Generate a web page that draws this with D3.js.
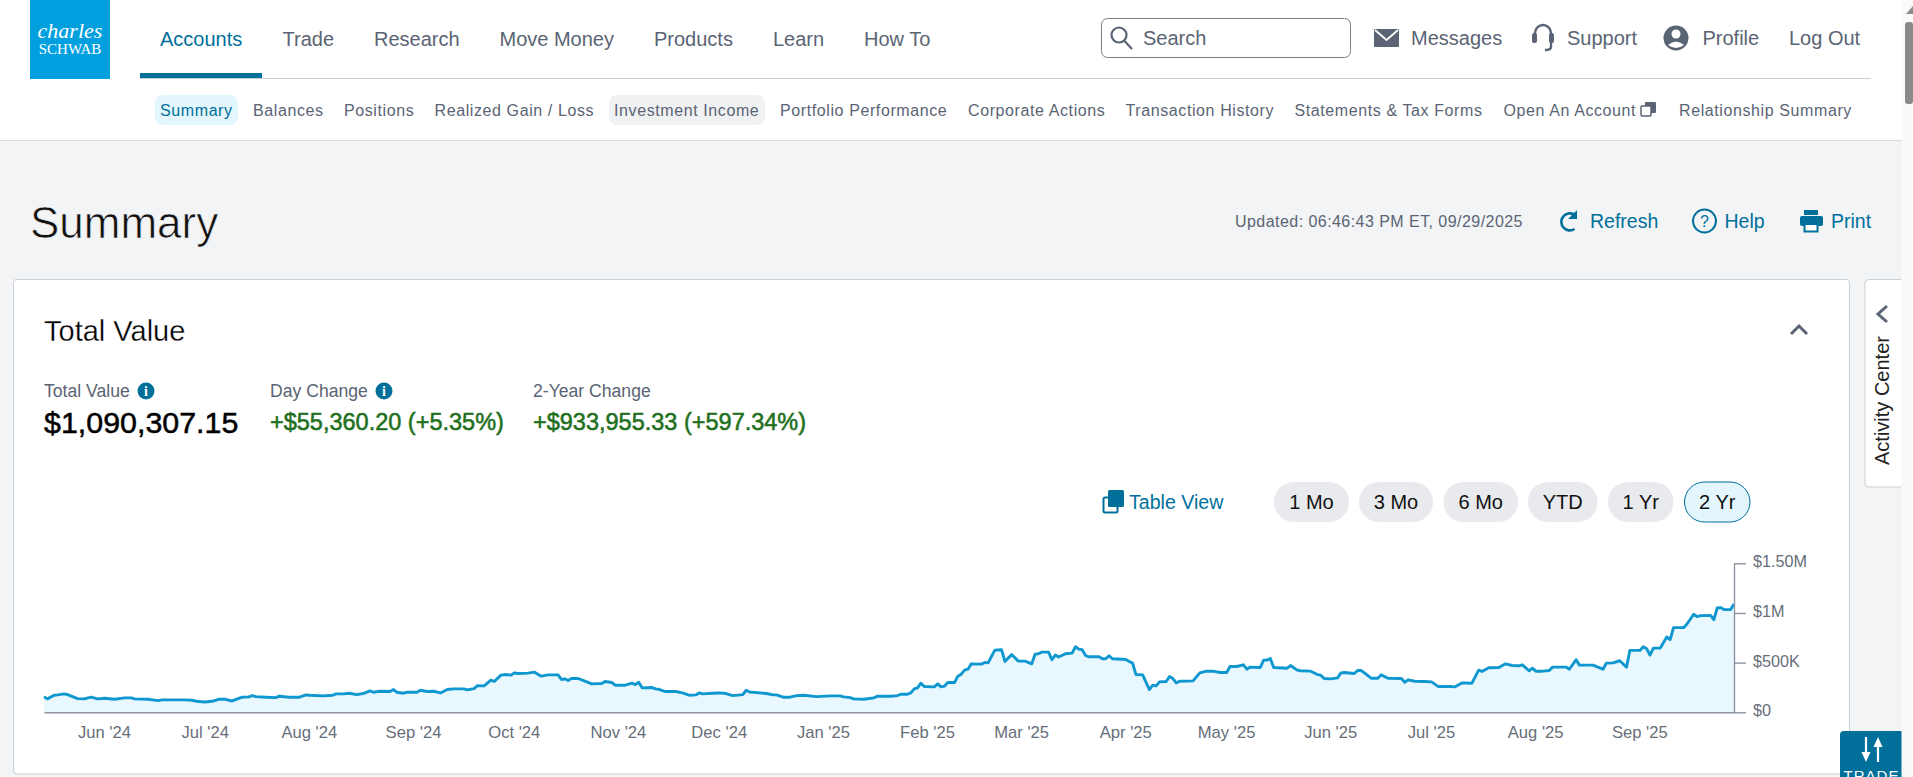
<!DOCTYPE html>
<html>
<head>
<meta charset="utf-8">
<title>Summary</title>
<script src="https://cdn.jsdelivr.net/npm/d3@7"></script>
<style>
    html, body { margin: 0; padding: 0; background: #f3f4f6; overflow: hidden; }
    svg { display: block; font-family: "Liberation Sans", Arial, sans-serif; }
</style>
</head>
<body>
<div id="page"></div>
<script>
// Chart data (total value in $K)
const dates = [
    "2024-05-14","2024-05-15","2024-05-17","2024-05-18","2024-05-20","2024-05-21","2024-05-24","2024-05-26","2024-05-28","2024-05-30",
    "2024-06-01","2024-06-04","2024-06-07","2024-06-09","2024-06-10","2024-06-14","2024-06-17","2024-06-18","2024-06-22","2024-06-25","2024-06-27","2024-06-29",
    "2024-07-01","2024-07-03","2024-07-05","2024-07-07","2024-07-09","2024-07-12","2024-07-14","2024-07-15","2024-07-16","2024-07-19","2024-07-22","2024-07-23","2024-07-26","2024-07-29","2024-07-31",
    "2024-08-01","2024-08-05","2024-08-08","2024-08-09","2024-08-11","2024-08-13","2024-08-15","2024-08-17","2024-08-19","2024-08-20","2024-08-22","2024-08-25","2024-08-26","2024-08-27","2024-08-29","2024-08-30",
    "2024-09-02","2024-09-03","2024-09-05","2024-09-07","2024-09-09","2024-09-11","2024-09-13","2024-09-16","2024-09-17","2024-09-19","2024-09-20","2024-09-22","2024-09-24","2024-09-25","2024-09-27","2024-09-28","2024-09-30",
    "2024-10-01","2024-10-02","2024-10-05","2024-10-07","2024-10-09","2024-10-11","2024-10-14","2024-10-15","2024-10-16","2024-10-17","2024-10-18","2024-10-20","2024-10-22","2024-10-24","2024-10-27","2024-10-28","2024-10-30","2024-10-31",
    "2024-11-03","2024-11-05","2024-11-06","2024-11-07","2024-11-08","2024-11-11","2024-11-12","2024-11-13","2024-11-15","2024-11-18","2024-11-20","2024-11-22","2024-11-24","2024-11-25","2024-11-26","2024-11-29",
    "2024-12-01","2024-12-03","2024-12-05","2024-12-08","2024-12-09","2024-12-10","2024-12-13","2024-12-15","2024-12-17","2024-12-18","2024-12-20","2024-12-22","2024-12-24","2024-12-26","2024-12-30",
    "2025-01-03","2025-01-06","2025-01-07","2025-01-09","2025-01-10","2025-01-13","2025-01-16","2025-01-17","2025-01-21","2025-01-23","2025-01-24","2025-01-26","2025-01-27","2025-01-28","2025-01-29","2025-01-30","2025-01-31",
    "2025-02-03","2025-02-04","2025-02-05","2025-02-06","2025-02-07","2025-02-09","2025-02-10","2025-02-11","2025-02-12","2025-02-13","2025-02-14","2025-02-17","2025-02-18","2025-02-19","2025-02-21","2025-02-23","2025-02-24","2025-02-26","2025-02-28",
    "2025-03-02","2025-03-04","2025-03-05","2025-03-06","2025-03-07","2025-03-09","2025-03-10","2025-03-11","2025-03-12","2025-03-14","2025-03-16","2025-03-17","2025-03-18","2025-03-19","2025-03-20","2025-03-21","2025-03-24","2025-03-25","2025-03-26","2025-03-27","2025-03-28",
    "2025-04-01","2025-04-02","2025-04-03","2025-04-04","2025-04-06","2025-04-08","2025-04-09","2025-04-10","2025-04-11","2025-04-13","2025-04-14","2025-04-15","2025-04-16","2025-04-17","2025-04-21","2025-04-23","2025-04-25","2025-04-27","2025-04-29",
    "2025-05-01","2025-05-02","2025-05-04","2025-05-06","2025-05-07","2025-05-08","2025-05-11","2025-05-12","2025-05-13","2025-05-14","2025-05-15","2025-05-19","2025-05-20","2025-05-22","2025-05-23","2025-05-26","2025-05-28","2025-05-29","2025-05-30",
    "2025-06-01","2025-06-03","2025-06-04","2025-06-05","2025-06-08","2025-06-09","2025-06-10","2025-06-11","2025-06-13","2025-06-15","2025-06-16","2025-06-18","2025-06-22","2025-06-23","2025-06-24","2025-06-26","2025-06-29",
    "2025-07-01","2025-07-03","2025-07-07","2025-07-08","2025-07-10","2025-07-13","2025-07-15","2025-07-16","2025-07-18","2025-07-21","2025-07-23","2025-07-25","2025-07-27","2025-07-28","2025-07-30","2025-07-31",
    "2025-08-01","2025-08-03","2025-08-05","2025-08-06","2025-08-10","2025-08-11","2025-08-13","2025-08-14","2025-08-18","2025-08-21","2025-08-22","2025-08-24","2025-08-26","2025-08-28","2025-08-29",
    "2025-09-01","2025-09-02","2025-09-03","2025-09-04","2025-09-05","2025-09-07","2025-09-09","2025-09-10","2025-09-11","2025-09-14","2025-09-15","2025-09-17","2025-09-18","2025-09-19","2025-09-22","2025-09-23","2025-09-24","2025-09-25","2025-09-26","2025-09-28","2025-09-29"
];
const totals = [
    156,135,172,175,185,178,138,135,152,135,
    141,131,145,145,135,131,118,125,125,125,121,108,
    104,111,131,131,114,152,155,168,158,152,148,162,152,152,175,
    172,165,172,185,185,192,178,189,215,202,212,209,229,202,192,202,
    202,222,209,212,195,229,236,236,226,239,269,266,323,310,374,380,374,
    397,391,394,404,364,377,377,330,337,320,340,340,313,286,290,310,300,273,
    273,293,279,303,246,249,236,232,209,209,195,172,175,195,185,192,
    195,189,168,178,222,205,195,189,175,175,152,152,168,172,158,
    165,165,155,148,135,131,145,162,162,168,182,182,195,236,246,293,259,
    256,286,256,263,300,300,364,384,424,434,488,485,502,498,626,630,512,582,515,
    515,488,586,589,606,606,529,576,556,589,596,660,636,630,572,559,559,539,539,569,539,
    532,512,495,380,377,229,273,266,306,310,360,340,296,313,316,397,414,414,401,
    401,461,461,478,434,455,451,525,525,542,451,444,471,424,418,414,380,374,340,
    337,347,397,401,391,421,421,397,343,343,377,343,340,303,327,313,310,
    306,259,259,256,296,293,424,411,448,451,488,471,468,478,418,444,
    414,414,421,455,455,434,529,475,475,434,495,498,519,455,623,
    623,660,640,576,646,646,758,731,852,852,889,987,963,973,976,933,1050,1054,1034,1034,1090
];
const xTickDates = ["2024-06-01","2024-07-01","2024-08-01","2024-09-01","2024-10-01","2024-11-01","2024-12-01","2025-01-01","2025-02-01","2025-03-01","2025-04-01","2025-05-01","2025-06-01","2025-07-01","2025-08-01","2025-09-01"];
const xTickLabels = ["Jun '24","Jul '24","Aug '24","Sep '24","Oct '24","Nov '24","Dec '24","Jan '25","Feb '25","Mar '25","Apr '25","May '25","Jun '25","Jul '25","Aug '25","Sep '25"];
const yTickValues = [0, 500, 1000, 1500];
const yTickLabels = ["$0", "$500K", "$1M", "$1.50M"];

// Page text
const mainNav = ["Accounts", "Trade", "Research", "Move Money", "Products", "Learn", "How To"];
const subNav = ["Summary", "Balances", "Positions", "Realized Gain / Loss", "Investment Income", "Portfolio Performance", "Corporate Actions", "Transaction History", "Statements & Tax Forms", "Open An Account", "Relationship Summary"];
const ranges = ["1 Mo", "3 Mo", "6 Mo", "YTD", "1 Yr", "2 Yr"];

const pageW = 1913, pageH = 777;
const teal = "#00709b", slate = "#5a6474", rule = "#c9cfd6";

const svg = d3.select("#page").append("svg")
    .attr("width", pageW)
    .attr("height", pageH);

function label(parent, x, y, str, size, fill, extra) {
    const t = parent.append("text")
        .attr("x", x)
        .attr("y", y)
        .attr("font-size", size)
        .attr("fill", fill)
        .text(str);
    Object.entries(extra || {}).forEach(([k, v]) => t.attr(k, v));
    return t;
}

// === Header ===
svg.append("rect").attr("width", pageW).attr("height", 140).attr("fill", "#fff");
svg.append("line").attr("x1", 0).attr("x2", pageW).attr("y1", 140.5).attr("y2", 140.5).attr("stroke", "#d5d8dc");

svg.append("rect").attr("x", 30).attr("y", 0).attr("width", 80).attr("height", 79).attr("fill", "#00a0df");
label(svg, 70, 38, "charles", 22, "#fff", { "font-family": "Liberation Serif", "font-style": "italic", "text-anchor": "middle" });
label(svg, 70, 53.5, "SCHWAB", 15, "#fff", { "font-family": "Liberation Serif", "text-anchor": "middle" });

const mainNavX = [160, 282.5, 374, 499.5, 654, 773, 864];
mainNav.forEach((d, i) => label(svg, mainNavX[i], 46, d, 20, i === 0 ? teal : slate));
svg.append("line").attr("x1", 140).attr("x2", 1871).attr("y1", 78.5).attr("y2", 78.5).attr("stroke", rule);
svg.append("rect").attr("x", 140).attr("y", 73).attr("width", 122).attr("height", 5).attr("fill", teal);

// search box and account links
svg.append("rect").attr("x", 1101.5).attr("y", 18.5).attr("width", 249).attr("height", 39).attr("rx", 6)
    .attr("fill", "#fff").attr("stroke", "#7a7f87");
const searchIcon = svg.append("g").attr("fill", "none").attr("stroke", slate).attr("stroke-width", 2.2);
searchIcon.append("circle").attr("cx", 1119).attr("cy", 35).attr("r", 7.5);
searchIcon.append("line").attr("x1", 1124.5).attr("y1", 41).attr("x2", 1132).attr("y2", 49);
label(svg, 1143, 44.5, "Search", 20, slate);

svg.append("rect").attr("x", 1374).attr("y", 29).attr("width", 25).attr("height", 18).attr("rx", 1).attr("fill", slate);
svg.append("path").attr("d", "M1375,30 L1386.5,40 L1398,30").attr("fill", "none").attr("stroke", "#fff").attr("stroke-width", 1.8);
label(svg, 1411, 45, "Messages", 20, slate);

svg.append("path").attr("d", "M1535,38 V33 A8,8 0 0 1 1551,33 V40 M1551,42 V47 Q1551,50 1545,50")
    .attr("fill", "none").attr("stroke", slate).attr("stroke-width", 2.4);
svg.append("rect").attr("x", 1532).attr("y", 33).attr("width", 5).attr("height", 10).attr("rx", 2).attr("fill", slate);
svg.append("rect").attr("x", 1549).attr("y", 33).attr("width", 5).attr("height", 10).attr("rx", 2).attr("fill", slate);
label(svg, 1567, 45, "Support", 20, slate);

svg.append("circle").attr("cx", 1676).attr("cy", 38).attr("r", 12.5).attr("fill", slate);
svg.append("circle").attr("cx", 1676).attr("cy", 34).attr("r", 4.5).attr("fill", "#fff");
svg.append("path").attr("d", "M1668,45 Q1676,38 1684,45 Q1676,51 1668,45 Z").attr("fill", "#fff");
label(svg, 1702.5, 45, "Profile", 20, slate);
label(svg, 1789, 45, "Log Out", 20, slate);

// sub navigation
svg.append("rect").attr("x", 155).attr("y", 95).attr("width", 83).attr("height", 30).attr("rx", 8).attr("fill", "#e3f6fd");
svg.append("rect").attr("x", 609).attr("y", 95).attr("width", 156).attr("height", 30).attr("rx", 8).attr("fill", "#f0f1f3");
const subNavX = [160, 253, 344, 434.5, 614, 780, 968, 1125.5, 1294.5, 1503.5, 1679];
subNav.forEach((d, i) => label(svg, subNavX[i], 115.5, d, 16, i === 0 ? teal : slate, { "letter-spacing": 0.6 }));
svg.append("rect").attr("x", 1645).attr("y", 102).attr("width", 11).attr("height", 11).attr("rx", 1).attr("fill", slate);
svg.append("rect").attr("x", 1641).attr("y", 106).attr("width", 10).attr("height", 10).attr("rx", 1).attr("fill", "#fff").attr("stroke", slate).attr("stroke-width", 1.5);

// === Title row ===
// the background stroke thins the heading down to a light weight
label(svg, 30, 238, "Summary", 44, "#111", { stroke: "#f3f4f6", "stroke-width": 0.7 });
label(svg, 1235, 226.5, "Updated: 06:46:43 PM ET, 09/29/2025", 16, slate, { "letter-spacing": 0.45 });

svg.append("path").attr("d", "M1574,214.5 A8.5,8.5 0 1 0 1574.5,229").attr("fill", "none").attr("stroke", teal).attr("stroke-width", 2.6);
svg.append("path").attr("d", "M1577,210 V219 H1568 Z").attr("fill", teal);
label(svg, 1590, 227.5, "Refresh", 19.5, teal);
svg.append("circle").attr("cx", 1704.5).attr("cy", 221).attr("r", 11.5).attr("fill", "none").attr("stroke", teal).attr("stroke-width", 2);
label(svg, 1704.5, 227, "?", 16, teal, { "text-anchor": "middle" });
label(svg, 1724.5, 227.5, "Help", 19.5, teal);
svg.append("rect").attr("x", 1804).attr("y", 210).attr("width", 14).attr("height", 5).attr("fill", teal);
svg.append("rect").attr("x", 1800).attr("y", 216).attr("width", 23).attr("height", 10).attr("rx", 2).attr("fill", teal);
svg.append("rect").attr("x", 1804.5).attr("y", 224).attr("width", 13).attr("height", 7.5).attr("fill", "#fff").attr("stroke", teal).attr("stroke-width", 2);
label(svg, 1831, 227.5, "Print", 19.5, teal);

// === Card ===
svg.append("rect").attr("x", 13.5).attr("y", 279.5).attr("width", 1836).attr("height", 494.5).attr("rx", 3)
    .attr("fill", "#fff").attr("stroke", rule);
label(svg, 44, 340.5, "Total Value", 29, "#000", { stroke: "#fff", "stroke-width": 0.3 });
svg.append("path").attr("d", "M1791,334 L1799,326 L1807,334").attr("fill", "none").attr("stroke", slate).attr("stroke-width", 3);

function infoIcon(cx, cy) {
    svg.append("circle").attr("cx", cx).attr("cy", cy).attr("r", 8.5).attr("fill", teal);
    label(svg, cx, cy + 5, "i", 14, "#fff", { "text-anchor": "middle", "font-family": "Liberation Serif", "font-weight": "bold" });
}
label(svg, 44, 396.5, "Total Value", 17.6, slate);
infoIcon(146, 391);
label(svg, 270, 396.5, "Day Change", 17.6, slate);
infoIcon(384, 391);
label(svg, 533, 396.5, "2-Year Change", 17.6, slate);

label(svg, 44, 433, "$1,090,307.15", 30.4, "#000", { stroke: "#000", "stroke-width": 0.5 });
label(svg, 270, 429.5, "+$55,360.20 (+5.35%)", 23.5, "#1f7020", { stroke: "#1f7020", "stroke-width": 0.55 });
label(svg, 533, 429.5, "+$933,955.33 (+597.34%)", 23.5, "#1f7020", { stroke: "#1f7020", "stroke-width": 0.55 });

// Table view + range pills
svg.append("rect").attr("x", 1103.5).attr("y", 497.5).attr("width", 14).attr("height", 15).attr("rx", 1.5).attr("fill", "#fff").attr("stroke", teal).attr("stroke-width", 2);
svg.append("rect").attr("x", 1108).attr("y", 490).attr("width", 16).attr("height", 17).attr("rx", 1.5).attr("fill", teal);
label(svg, 1129, 509, "Table View", 19.6, teal);

const pillX = [1274, 1359, 1443.5, 1528, 1608, 1684.5];
const pillW = [75, 74, 74.5, 69.5, 65.5, 65.5];
ranges.forEach((d, i) => {
    const active = i === ranges.length - 1;
    svg.append("rect").attr("x", pillX[i]).attr("y", 482).attr("width", pillW[i]).attr("height", 40).attr("rx", 20)
        .attr("fill", active ? "#e3f6fd" : "#e8eaed")
        .attr("stroke", active ? teal : "none");
    label(svg, pillX[i] + pillW[i] / 2, 509, d, 20, "#111", { "text-anchor": "middle" });
});

// === Chart ===
const margin = { top: 563.3, right: 179, bottom: 64.7, left: 44 };
const width = pageW - margin.left - margin.right;
const height = pageH - margin.top - margin.bottom;

const parseDate = d3.timeParse("%Y-%m-%d");
const series = dates.map((d, i) => ({ date: parseDate(d), value: totals[i] }));

const x = d3.scaleTime().domain(d3.extent(series, d => d.date)).range([0, width]);
const y = d3.scaleLinear().domain([0, 1500]).range([height, 0]);

const chart = svg.append("g").attr("transform", `translate(${margin.left},${margin.top})`);

const area = d3.area()
    .x(d => x(d.date))
    .y0(height)
    .y1(d => y(d.value));

chart.append("path")
    .datum(series)
    .attr("fill", "#e9f7fe")
    .attr("d", area);

const line = d3.line()
    .x(d => x(d.date))
    .y(d => y(d.value));

chart.append("path")
    .datum(series)
    .attr("fill", "none")
    .attr("stroke", "#0f97d0")
    .attr("stroke-width", 2.9)
    .attr("stroke-linejoin", "round")
    .attr("d", line);

const xAxis = chart.append("g")
    .attr("transform", `translate(0,${height})`)
    .call(d3.axisBottom(x)
        .tickValues(xTickDates.map(parseDate))
        .tickFormat((d, i) => xTickLabels[i])
        .tickSize(0)
        .tickPadding(14));

const yAxis = chart.append("g")
    .attr("transform", `translate(${width},0)`)
    .call(d3.axisRight(y)
        .tickValues(yTickValues)
        .tickFormat((d, i) => yTickLabels[i])
        .tickSize(12)
        .tickSizeOuter(0)
        .tickPadding(7));

[xAxis, yAxis].forEach(a => {
    a.attr("font-family", null).attr("font-size", null);
    a.selectAll("path, line").attr("stroke", "#8b949f").attr("stroke-width", 1.4);
});
xAxis.selectAll("text").attr("font-size", 16.6).attr("fill", "#666e7a").attr("dx", -0.6);
yAxis.selectAll("text").attr("font-size", 16.2).attr("fill", "#666e7a").attr("dy", "0.22em");

// === Side tab, trade button, scrollbar ===
svg.append("path").attr("d", "M1901,279.5 H1869 Q1865,279.5 1865,283.5 V483 Q1865,487 1869,487 H1901")
    .attr("fill", "#fff").attr("stroke", rule);
svg.append("path").attr("d", "M1887,306 L1878,314 L1887,322").attr("fill", "none").attr("stroke", slate).attr("stroke-width", 3);
label(svg, 0, 0, "Activity Center", 20, "#222", {
    "text-anchor": "middle",
    transform: "translate(1889,400.5) rotate(-90)"
});

svg.append("path").attr("d", "M1840,777 V735 Q1840,731 1844,731 H1902 V777 Z").attr("fill", teal);
svg.append("path").attr("d", "M1866,737 V754 M1878,762 V745").attr("stroke", "#fff").attr("stroke-width", 2.2);
svg.append("path").attr("d", "M1861.5,752 H1870.5 L1866,762 Z M1873.5,747 H1882.5 L1878,737 Z").attr("fill", "#fff");
label(svg, 1871.5, 781, "TRADE", 15, "#fff", { "text-anchor": "middle", "letter-spacing": 1 });

svg.append("rect").attr("x", 1901.5).attr("y", 0).attr("width", 11.5).attr("height", pageH).attr("fill", "#fafafa");
svg.append("rect").attr("x", 1905).attr("y", 22).attr("width", 8).attr("height", 82).attr("rx", 3).attr("fill", "#8a8a8a");
svg.append("path").attr("d", "M1906,14 L1913,6 V14 Z").attr("fill", "#8a8a8a");
</script>
</body>
</html>
